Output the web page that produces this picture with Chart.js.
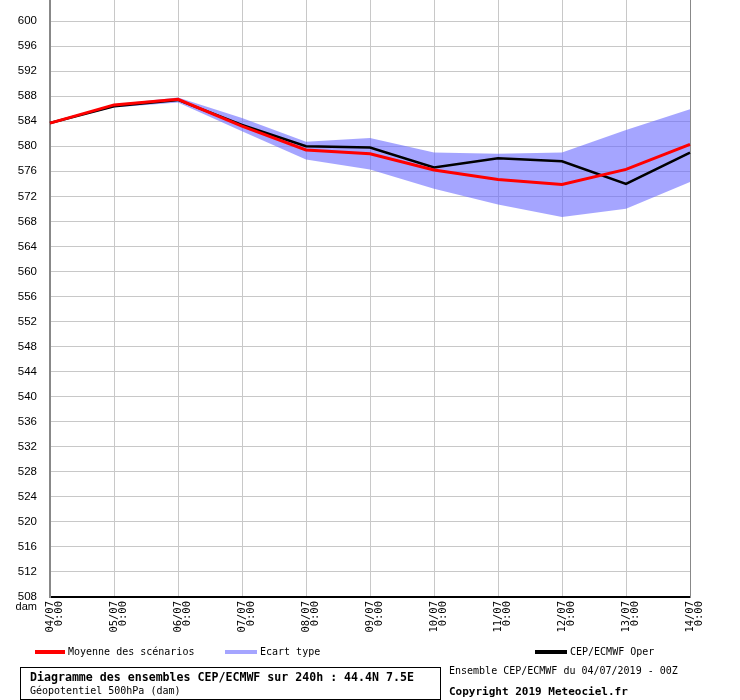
<!DOCTYPE html>
<html>
<head>
<meta charset="utf-8">
<script src="https://cdn.jsdelivr.net/npm/chart.js@4/dist/chart.umd.min.js"></script>
<style>
  html, body { margin: 0; padding: 0; background: #fff; }
  canvas { display: block; }
</style>
</head>
<body>
<canvas id="chart" width="740" height="700"></canvas>
<script>
const dates = ['04/07', '05/07', '06/07', '07/07', '08/07', '09/07', '10/07', '11/07', '12/07', '13/07', '14/07'];
const meanValues = [583.7, 586.6, 587.5, 583.2, 579.4, 578.8, 576.2, 574.7, 573.9, 576.3, 580.3];
const operValues = [583.7, 586.4, 587.4, 583.4, 580.0, 579.8, 576.6, 578.1, 577.6, 574.0, 579.0];
const spreadUpper = [583.7, 586.7, 587.8, 584.5, 580.7, 581.3, 579.0, 578.8, 579.0, 582.6, 585.9];
const spreadLower = [583.7, 586.2, 587.0, 582.4, 577.9, 576.3, 573.2, 570.7, 568.7, 570.0, 574.3];
const yTicks = [508, 512, 516, 520, 524, 528, 532, 536, 540, 544, 548, 552, 556, 560, 564, 568, 572, 576, 580, 584, 588, 592, 596, 600];

const mono = '"DejaVu Sans Mono", monospace';

// no extra padding from tick labels, so the plot fills the gif's box
function noPad(scale) {
  scale.paddingTop = 0;
  scale.paddingBottom = 0;
  scale.paddingLeft = 0;
  scale.paddingRight = 0;
}

// legend, footer box and unit label, drawn like the original gif
const footer = {
  id: 'footer',
  afterDraw(chart) {
    const ctx = chart.ctx;
    ctx.save();
    ctx.fillStyle = '#000';
    ctx.textBaseline = 'middle';

    ctx.font = '11px "Liberation Sans", sans-serif';
    ctx.textAlign = 'right';
    ctx.fillText('dam', 37, 607);

    ctx.textAlign = 'left';
    ctx.font = '10px ' + mono;
    const items = [
      { x: 35, w: 30, color: '#ff0000', text: 'Moyenne des scénarios' },
      { x: 225, w: 32, color: '#a5a5ff', text: 'Ecart type' },
      { x: 535, w: 32, color: '#000000', text: 'CEP/ECMWF Oper' },
    ];
    items.forEach((it) => {
      ctx.fillStyle = it.color;
      ctx.fillRect(it.x, 650, it.w, 4);
      ctx.fillStyle = '#000';
      ctx.fillText(it.text, it.x + it.w + 3, 652);
    });

    ctx.strokeStyle = '#000';
    ctx.lineWidth = 1;
    ctx.strokeRect(20.5, 667.5, 420, 32);
    ctx.font = 'bold 11.6px ' + mono;
    ctx.fillText('Diagramme des ensembles CEP/ECMWF sur 240h : 44.4N 7.5E', 30, 678);
    ctx.font = '10px ' + mono;
    ctx.fillText('Géopotentiel 500hPa (dam)', 30, 691);

    ctx.fillText('Ensemble CEP/ECMWF du 04/07/2019 - 00Z', 449, 671);
    ctx.font = 'bold 11px ' + mono;
    ctx.fillText('Copyright 2019 Meteociel.fr', 449, 692);
    ctx.restore();
  },
};

new Chart(document.getElementById('chart'), {
  type: 'line',
  data: {
    labels: dates,
    datasets: [
      {
        label: 'Ecart type haut',
        data: spreadUpper,
        borderWidth: 0,
        pointRadius: 0,
        backgroundColor: 'rgba(100, 100, 255, 0.58)',
        fill: '+1',
        order: 3,
      },
      {
        label: 'Ecart type bas',
        data: spreadLower,
        borderWidth: 0,
        pointRadius: 0,
        fill: false,
        order: 3,
      },
      {
        label: 'CEP/ECMWF Oper',
        data: operValues,
        borderColor: '#000000',
        borderWidth: 2.5,
        pointRadius: 0,
        fill: false,
        order: 2,
      },
      {
        label: 'Moyenne des scénarios',
        data: meanValues,
        borderColor: '#ff0000',
        borderWidth: 3,
        pointRadius: 0,
        fill: false,
        order: 1,
      },
    ],
  },
  options: {
    responsive: false,
    animation: false,
    devicePixelRatio: 1,
    layout: { padding: { left: 0, right: 50, top: 0, bottom: 0 } },
    plugins: {
      legend: { display: false },
      tooltip: { enabled: false },
    },
    scales: {
      x: {
        offset: false,
        afterFit(scale) { scale.height = 103; noPad(scale); },
        grid: { color: '#c8c8c8', drawTicks: false, lineWidth: 1 },
        border: { color: '#000', width: 2 },
        ticks: {
          autoSkip: false,
          minRotation: 90,
          maxRotation: 90,
          padding: 4,
          color: '#000',
          font: { family: mono, size: 10.5, lineHeight: 0.9 },
          callback(value, index) { return [dates[index], '0:00']; },
        },
      },
      y: {
        min: 508,
        max: 603.36,
        afterFit(scale) { scale.width = 50; noPad(scale); },
        afterBuildTicks(scale) { scale.ticks = yTicks.map((v) => ({ value: v })); },
        grid: { color: '#c8c8c8', drawTicks: false, lineWidth: 1 },
        border: { color: '#888', width: 2 },
        ticks: {
          padding: 13,
          color: '#000',
          font: { family: '"Liberation Sans", sans-serif', size: 11.5 },
        },
      },
      y2: {
        position: 'right',
        min: 508,
        max: 603.36,
        afterFit(scale) { scale.width = 0; noPad(scale); },
        grid: { display: false },
        border: { color: '#888', width: 1 },
        ticks: { display: false },
      },
    },
  },
  plugins: [footer],
});
</script>
</body>
</html>
